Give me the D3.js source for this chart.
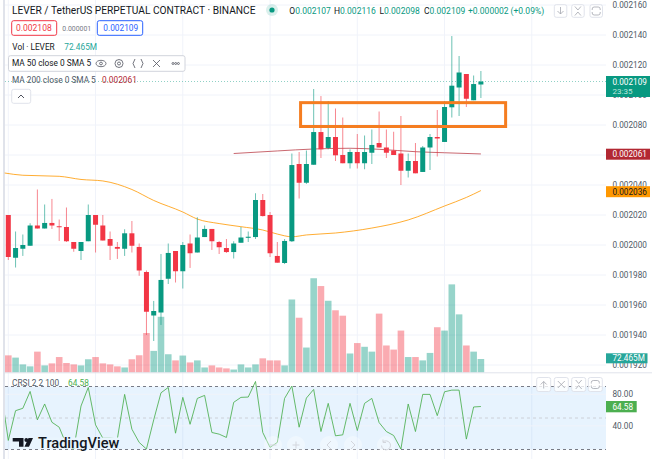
<!DOCTYPE html>
<html>
<head>
<meta charset="utf-8">
<style>
  html, body { margin: 0; padding: 0; background: #fff; }
  svg { display: block; }
  text { font-family: Roboto, sans-serif; }
</style>
<script src="https://cdnjs.cloudflare.com/ajax/libs/d3/7.8.5/d3.min.js"></script>
</head>
<body>
<svg id="chart" width="652" height="463"></svg>
<script>
// candles, prices in 1e-6 usdt
const opens = [2020, 1991.5, 1997.5, 1999.5, 2013, 2011, 2014.7, 2012.5, 2012, 2002, 1996, 2002.5, 2020, 2013, 2004, 1998.7, 1997.5, 2007.8, 1998.7, 1982, 1953, 1955, 1977.5, 1996, 1982.5, 2001, 1995, 2005.3, 2010.7, 2002, 1998, 1995.3, 2001.5, 2004.8, 2005.3, 2030, 2020, 1992.7, 1988, 2002.5, 2054, 2041.5, 2053.5, 2075.3, 2064.7, 2072, 2060, 2054.5, 2062, 2054.5, 2061.5, 2068, 2065, 2063, 2061, 2049.5, 2056, 2048.7, 2065, 2072, 2068.7, 2091.8, 2105, 2114, 2096.5, 2107];
const highs = [2020, 2009, 2007, 2014.5, 2037, 2027, 2030.7, 2017, 2025, 2002, 2002, 2027, 2020, 2020, 2009, 2002, 2010.5, 2016, 2001, 1983, 1962.7, 1994, 2001, 1996, 2002, 2007, 2018.5, 2013, 2010.7, 2002.7, 2004, 2002.5, 2012, 2009, 2034.5, 2034, 2022, 2002, 2004, 2061, 2062, 2063, 2104, 2099.3, 2096, 2091, 2085, 2063.8, 2074, 2073, 2077, 2089, 2077, 2075.5, 2086, 2061, 2068, 2066, 2074, 2090, 2096, 2139.3, 2126, 2114, 2113, 2116];
const lows = [1990, 1985, 1992.7, 1999.5, 2011, 2011, 2010.7, 2002.7, 2002, 1995.5, 1990, 2002.5, 1995, 2003, 1990, 1990.7, 1992.7, 1995, 1979.5, 1940, 1936, 1946.7, 1974, 1975, 1971, 1984.7, 1995, 2005.3, 1996.7, 1994, 1994.7, 1991, 2001.5, 2002, 2004, 2019, 1992, 1988.2, 1987.3, 2002, 2031, 2040.7, 2053.5, 2058, 2063.8, 2056, 2054.5, 2051, 2051, 2050.5, 2054, 2065, 2058, 2060, 2040, 2045, 2047.8, 2048.7, 2050, 2059, 2068.7, 2085, 2086, 2092, 2096.5, 2098];
const closes = [1992, 1998, 2000, 2013, 2011, 2014.7, 2013, 2012, 2002.5, 1997.5, 2002, 2020, 2013.5, 2003, 1999.5, 1997.5, 2007.8, 1999.5, 1983, 1955.5, 1956, 1976.7, 1994.7, 1982.5, 2000, 1994.5, 2005, 2010.7, 2002.5, 1998.5, 1995.3, 2001, 2005, 2005.5, 2030, 2019.3, 1994.5, 1988.2, 2002.7, 2053.3, 2041.5, 2054, 2075.3, 2063.8, 2072, 2059.8, 2054.5, 2062, 2054.5, 2062, 2066.7, 2065, 2061.5, 2060, 2049.5, 2056, 2047.8, 2065, 2072, 2071, 2092, 2106.2, 2115, 2097.5, 2107.3, 2109];
const volumes = [92, 80, 43.5, 33, 112, 38, 49, 83, 51, 43.5, 38, 71, 83, 49, 43.5, 33, 27, 71, 92.5, 212, 116, 299, 98, 65, 91, 54, 65, 27, 38, 27, 22, 16, 43.5, 27, 43.5, 76, 65, 65, 38, 392, 294, 134, 506, 464, 385, 334, 305, 102, 158, 138, 112, 316, 145, 123, 225, 83, 83, 65, 105, 243, 225, 473, 312, 145, 112, 72.465];

// moving averages, read at a few candles
const ma50Index = [-0.5, 2, 7, 10, 13, 17, 20, 24, 26, 29, 32, 35, 37, 39, 41, 45, 50, 55, 60, 63, 65];
const ma50Values = [2048, 2046.5, 2045.8, 2043.7, 2042.7, 2037, 2029.7, 2022, 2017.3, 2014.3, 2012.2, 2010, 2007.3, 2005.5, 2006.7, 2008, 2011.3, 2016.7, 2026, 2031.7, 2036.3];
const ma200Index = [31, 37, 42, 47, 51, 56, 60, 65];
const ma200Values = [2061, 2062.7, 2064, 2064.5, 2063.8, 2062.2, 2061.5, 2060.7];

// crsi, first value belongs to the candle just off the left edge
const crsi = [85, 21.5, 59.3, 62.3, 83.7, 47.6, 67.8, 44.6, 38.3, 16, 10.6, 65.2, 88.8, 41.3, 24.4, 24.4, 23.6, 80, 35.8, 19, 10.6, 47.6, 82, 88.8, 30.7, 76.2, 42, 74.9, 78.7, 31.6, 29.5, 25.3, 69.9, 76.2, 76.6, 96.4, 31.6, 12.7, 19, 74.9, 90.5, 38.3, 75.3, 86.3, 32.8, 68.6, 27.4, 28.6, 68.6, 34.1, 68.6, 74.9, 44.2, 32.8, 27.8, 10.6, 67.8, 32.8, 80, 80, 53, 83.3, 85.4, 85.4, 23.2, 64, 64.58];

const priceTicks = [2160, 2140, 2120, 2100, 2080, 2060, 2040, 2020, 2000, 1980, 1960, 1940, 1920];
const crsiTicks = [80, 40];
const crsiBands = [90, 50, 10];
const gridCandles = [0, 12, 24, 36, 48, 60, 72];

// orange box drawn on the chart
const zoneIndex = [40.2, 68.4];
const zonePrice = [2094.9, 2079];

const UP = "#089981", DOWN = "#f23645";
const svg = d3.select("#chart");

const x = d3.scaleLinear().domain([0, 65]).range([8.3, 480.9]);
const y = d3.scaleLinear().domain([1920, 2160]).range([365, 5]);
const vol = d3.scaleLinear().domain([0, 72.465]).range([372.5, 359]);
const rsi = d3.scaleLinear().domain([10, 90]).range([449.5, 386.5]);
const fmt = (p) => (p / 1e6).toFixed(6);
const isUp = (i) => closes[i] >= opens[i];
const idx = d3.range(opens.length);

// grid
const grid = svg.append("g").attr("stroke", "#f0f3fa").attr("stroke-width", 1);
grid.selectAll(".v").data(gridCandles).enter().append("line").attr("class", "v")
  .attr("x1", (d) => x(d)).attr("x2", (d) => x(d)).attr("y1", 0).attr("y2", 459);
grid.selectAll(".h").data(priceTicks).enter().append("line").attr("class", "h")
  .attr("x1", 5).attr("x2", 606).attr("y1", (d) => y(d)).attr("y2", (d) => y(d));

// left edge strip
svg.append("rect").attr("x", 3).attr("y", 0).attr("width", 2).attr("height", 459).attr("fill", "#e0e3eb");

// last price dots
svg.append("line").attr("x1", 5).attr("x2", 606).attr("y1", y(2109)).attr("y2", y(2109))
  .attr("stroke", UP).attr("stroke-opacity", 0.45).attr("stroke-dasharray", "1 2");

// volume
svg.append("g").selectAll("rect").data(idx).enter().append("rect")
  .attr("x", (i) => x(i) - 3.3)
  .attr("width", 6.6)
  .attr("y", (i) => vol(volumes[i]))
  .attr("height", (i) => vol(0) - vol(volumes[i]))
  .attr("fill", (i) => (isUp(i) ? "#089981" : "#f23645"))
  .attr("fill-opacity", 0.42);

// moving averages
const lineGen = d3.line().curve(d3.curveMonotoneX);
svg.append("path")
  .attr("d", lineGen(ma50Index.map((d, k) => [x(d), y(ma50Values[k])])))
  .attr("fill", "none").attr("stroke", "#ff9800").attr("stroke-opacity", 0.8).attr("stroke-width", 1);
svg.append("path")
  .attr("d", lineGen(ma200Index.map((d, k) => [x(d), y(ma200Values[k])])))
  .attr("fill", "none").attr("stroke", "#b22833").attr("stroke-opacity", 0.7).attr("stroke-width", 1);

// candles
const candles = svg.append("g").selectAll("g").data(idx).enter().append("g");
candles.append("line")
  .attr("x1", (i) => x(i)).attr("x2", (i) => x(i))
  .attr("y1", (i) => y(highs[i])).attr("y2", (i) => y(lows[i]))
  .attr("stroke", (i) => (isUp(i) ? UP : DOWN)).attr("stroke-width", 0.8).attr("stroke-opacity", 0.75);
candles.append("rect")
  .attr("x", (i) => x(i) - 2.5)
  .attr("width", 5)
  .attr("y", (i) => y(Math.max(opens[i], closes[i])))
  .attr("height", (i) => Math.max(1, Math.abs(y(opens[i]) - y(closes[i]))))
  .attr("fill", (i) => (isUp(i) ? UP : DOWN));

// zone box
svg.append("rect")
  .attr("x", x(zoneIndex[0])).attr("width", x(zoneIndex[1]) - x(zoneIndex[0]))
  .attr("y", y(zonePrice[0])).attr("height", y(zonePrice[1]) - y(zonePrice[0]))
  .attr("fill", "none").attr("stroke", "#f57d20").attr("stroke-width", 3);

// price axis
const AXIS_FONT = 8.2;
svg.append("g").selectAll("text").data(priceTicks).enter().append("text")
  .attr("x", 612.5).attr("y", (d) => y(d) + 3)
  .attr("font-size", AXIS_FONT).attr("fill", "#4f5966")
  .text((d) => fmt(d));

function priceTag(value, fill, color) {
  svg.append("rect").attr("x", 606).attr("y", y(value) - 4.8).attr("width", 44).attr("height", 11).attr("fill", fill);
  svg.append("text").attr("x", 612.5).attr("y", y(value) + 3.5)
    .attr("font-size", AXIS_FONT).attr("fill", color).text(fmt(value));
}
priceTag(2061, "#b22833", "#fff");
priceTag(2036, "#ff9800", "#131722");

// last price tag with countdown
svg.append("rect").attr("x", 606).attr("y", 76).attr("width", 44).attr("height", 21).attr("fill", UP);
svg.append("text").attr("x", 612.5).attr("y", 84.7).attr("font-size", AXIS_FONT).attr("fill", "#fff").text("0.002109");
svg.append("text").attr("x", 612.5).attr("y", 94).attr("font-size", 8).attr("fill", "#bfe6dd").text("23:35");

// volume tag
svg.append("rect").attr("x", 606).attr("y", 353.3).attr("width", 41.5).attr("height", 10).attr("fill", "#26a69a");
svg.append("text").attr("x", 612.5).attr("y", 361.3).attr("font-size", AXIS_FONT).attr("fill", "#fff").text("72.465M");

// pane separator
svg.append("line").attr("x1", 5).attr("x2", 652).attr("y1", 372.8).attr("y2", 372.8).attr("stroke", "#e0e3eb");

// crsi pane
svg.append("rect").attr("x", 5).attr("y", rsi(90)).attr("width", 601).attr("height", rsi(10) - rsi(90))
  .attr("fill", "#2196f3").attr("fill-opacity", 0.11);
svg.append("g").selectAll("line").data(crsiTicks).enter().append("line")
  .attr("x1", 5).attr("x2", 606).attr("y1", (d) => rsi(d)).attr("y2", (d) => rsi(d)).attr("stroke", "#f0f3fa");
svg.append("g").selectAll("line").data(crsiBands).enter().append("line")
  .attr("x1", 5).attr("x2", 606).attr("y1", (d) => rsi(d)).attr("y2", (d) => rsi(d))
  .attr("stroke", (d) => (d === 50 ? "#ccd0d8" : "#787b86"))
  .attr("stroke-dasharray", "3 3");

svg.append("clipPath").attr("id", "pane").append("rect").attr("x", 5).attr("y", 373).attr("width", 601).attr("height", 90);
svg.append("path")
  .attr("clip-path", "url(#pane)")
  .attr("d", d3.line().x((d, k) => x(k - 1)).y((d) => rsi(d))(crsi))
  .attr("fill", "none").attr("stroke", "#4caf50").attr("stroke-opacity", 0.85).attr("stroke-width", 1);

svg.append("g").selectAll("text").data(crsiTicks).enter().append("text")
  .attr("x", 612.5).attr("y", (d) => rsi(d) + 3)
  .attr("font-size", AXIS_FONT).attr("fill", "#4f5966").text((d) => d.toFixed(2));
svg.append("rect").attr("x", 606).attr("y", 401).attr("width", 30.7).attr("height", 11.3).attr("fill", "#4caf50");
svg.append("text").attr("x", 612.5).attr("y", 409.6).attr("font-size", AXIS_FONT).attr("fill", "#fff").text("64.58");

// legend texts
function label(tx, ty, size, color, str) {
  return svg.append("text").attr("x", tx).attr("y", ty).attr("font-size", size).attr("fill", color).text(str);
}
label(12, 14, 10.2, "#131722", "LEVER / TetherUS PERPETUAL CONTRACT · BINANCE");
svg.append("circle").attr("cx", 272).attr("cy", 10).attr("r", 6).attr("fill", UP).attr("fill-opacity", 0.15);
svg.append("circle").attr("cx", 272).attr("cy", 10).attr("r", 2.6).attr("fill", UP);

const ohlc = [["O", "0.002107", 289.3], ["H", "0.002116", 334], ["L", "0.002098", 379.5], ["C", "0.002109", 424]];
ohlc.forEach((d) => {
  const t = label(d[2], 14, 8.5, "#131722", d[0]);
  t.append("tspan").attr("fill", UP).text(d[1]);
});
label(468, 14, 8.5, UP, "+0.000002 (+0.09%)");

svg.append("rect").attr("x", 11.7).attr("y", 20.7).attr("width", 45).attr("height", 14.6).attr("rx", 2)
  .attr("fill", "#fff").attr("stroke", "#f23645");
label(16, 31, 8.5, "#f23645", "0.002108");
label(62.3, 31, 6.9, "#787b86", "0.000001");
svg.append("rect").attr("x", 97.3).attr("y", 20.7).attr("width", 45.4).attr("height", 14.6).attr("rx", 2)
  .attr("fill", "#fff").attr("stroke", "#2962ff");
label(103.3, 31, 8.3, "#2962ff", "0.002109");

label(12.3, 50, 8.3, "#131722", "Vol · LEVER");
label(64.3, 50, 8.3, "#26a69a", "72.465M");
svg.append("rect").attr("x", 8.5).attr("y", 55.7).attr("width", 176.5).attr("height", 15.6).attr("rx", 2)
  .attr("fill", "#fff").attr("stroke", "#d1d4dc");
label(12, 66, 8.3, "#131722", "MA 50 close 0 SMA 5");
label(12, 83, 8.3, "#4f5966", "MA 200 close 0 SMA 5");
label(102, 83, 8.3, "#b22833", "0.002061");
label(12, 386, 8.3, "#4f5966", "CRSI 2 2 100");
label(68, 386, 8.3, "#4caf50", "64.58");

// legend row icons
const icons = svg.append("g").attr("fill", "none").attr("stroke", "#50535e").attr("stroke-width", 0.8);
icons.append("ellipse").attr("cx", 101).attr("cy", 63.5).attr("rx", 5).attr("ry", 3.2);
icons.append("circle").attr("cx", 101).attr("cy", 63.5).attr("r", 1.4);
icons.append("circle").attr("cx", 119).attr("cy", 63.5).attr("r", 4);
icons.append("circle").attr("cx", 119).attr("cy", 63.5).attr("r", 1.5);
icons.append("path").attr("d", "M135 59l-2 4.5 2 4.5M141 59l2 4.5-2 4.5");
icons.append("path").attr("d", "M153 60l7 7M160 60l-7 7");
[173, 175.7, 178.4].forEach((cx) => icons.append("circle").attr("cx", cx).attr("cy", 63.5).attr("r", 1));

// small buttons
function button(bx, by, w, h) {
  svg.append("rect").attr("x", bx).attr("y", by).attr("width", w).attr("height", h).attr("rx", 2)
    .attr("fill", "#fff").attr("fill-opacity", 0.8).attr("stroke", "#e0e3eb");
}
function glyph(d, cx, cy) {
  svg.append("path").attr("transform", `translate(${cx},${cy})`).attr("d", d)
    .attr("fill", "none").attr("stroke", "#a3a6af").attr("stroke-width", 0.8);
}
const ARROW_DOWN = "M0 -4v7M-3 0l3 3 3-3";
const ARROW_UP = "M0 4v-7M-3 0l3-3 3 3";
const CROSS = "M-3.5 -3.5l7 7M3.5 -3.5l-7 7";
const COLLAPSE = "M-3 -4.5l3 3.5 3-3.5M-3 4.5l3-3.5 3 3.5";
const LOOP = "M-4 -1v-1a2 2 0 0 1 2-2h4a2 2 0 0 1 2 2v1M-4 1v1a2 2 0 0 0 2 2h4a2 2 0 0 0 2-2v-1";

button(11.7, 89.3, 19, 14);
svg.append("path").attr("d", "M18 98l3-3 3 3").attr("fill", "none").attr("stroke", "#50535e");
[[554.3, ARROW_DOWN], [571.7, COLLAPSE], [590, LOOP]].forEach((b) => {
  button(b[0], 4.7, 12.5, 12.6);
  glyph(b[1], b[0] + 6.2, 11);
});
[[536.7, ARROW_UP], [554.3, CROSS], [571.7, COLLAPSE], [588.3, LOOP]].forEach((b) => {
  button(b[0], 377.5, 14, 14);
  glyph(b[1], b[0] + 7, 384.5);
});

// faint navigation buttons at the bottom of the pane
const NAV_MINUS = "M-3.5 0h7";
const NAV_PLUS = "M-3.5 0h7M0 -3.5v7";
const NAV_LEFT = "M2 -4l-4 4 4 4";
const NAV_RIGHT = "M-2 -4l4 4-4 4";
const NAV_RESET = "M-3 -3a4.5 4.5 0 1 1 -1.5 3.5M-3 -5.5v3h3";
[[273, NAV_MINUS], [296, NAV_PLUS], [329, NAV_LEFT], [353, NAV_RIGHT], [386, NAV_RESET]].forEach((b) => {
  svg.append("circle").attr("cx", b[0]).attr("cy", 445).attr("r", 9).attr("fill", "#fff").attr("fill-opacity", 0.35);
  svg.append("path").attr("transform", `translate(${b[0]},445)`).attr("d", b[1])
    .attr("fill", "none").attr("stroke", "#d3d6dd").attr("stroke-width", 1);
});

// tradingview mark, the line fades behind it
svg.append("rect").attr("x", 11).attr("y", 437.5).attr("width", 109).attr("height", 11).attr("fill", "#e9f5fe");
svg.append("path").attr("d", "M12.7 438h10.8v8.7h-4.5v-5.2h-6.3z M28.5 438h4.5l-4 8.7h-4.5z").attr("fill", "#131722");
svg.append("circle").attr("cx", 26.3).attr("cy", 440).attr("r", 1.9).attr("fill", "#131722");
svg.append("text").attr("x", 38).attr("y", 448).attr("font-size", 14.6).attr("font-weight", 500)
  .attr("fill", "#131722").text("TradingView");
</script>
</body>
</html>
